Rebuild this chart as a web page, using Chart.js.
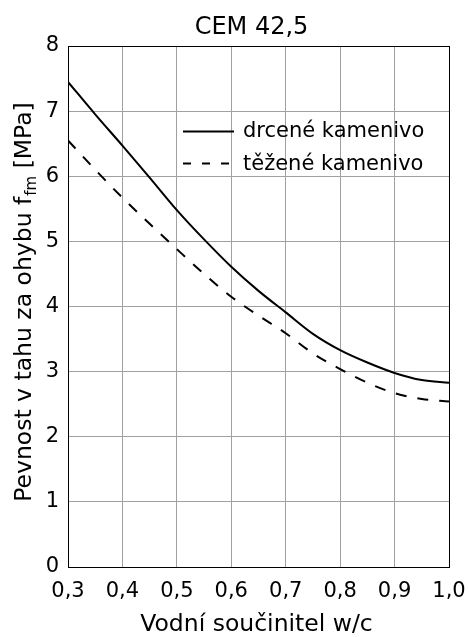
<!DOCTYPE html>
<html><head><meta charset="utf-8">
<script src="https://cdn.jsdelivr.net/npm/chart.js@4.4.1/dist/chart.umd.min.js"></script>
<style>html,body{margin:0;padding:0;background:#fff}#wrap{width:469px;height:637px}</style>
</head><body><div id="wrap"><canvas id="c" width="469" height="637"></canvas></div>
<script>
const wc = [0.30,0.35,0.40,0.45,0.50,0.55,0.60,0.65,0.70,0.75,0.80,0.85,0.90,0.95,1.00];
const drcene = [7.45,6.95,6.47,5.98,5.48,5.03,4.61,4.24,3.91,3.58,3.33,3.14,2.98,2.87,2.83];
const tezene = [6.55,6.10,5.67,5.27,4.88,4.50,4.15,3.86,3.59,3.28,3.04,2.83,2.67,2.58,2.54];
const xTicks = [0.3,0.4,0.5,0.6,0.7,0.8,0.9,1.0];
const yTicks = [0,1,2,3,4,5,6,7,8];
const seriesNames = ['drcené kamenivo','těžené kamenivo'];
const chartTitle = 'CEM 42,5';
const xTitle = 'Vodní součinitel w/c';
const yTitleMain = 'Pevnost v tahu za ohybu f';
const yTitleSub = 'fm';
const yTitleEnd = ' [MPa]';

const FONT = '"DejaVu Sans", sans-serif';
const toPts = (ys) => wc.map((x,i)=>({x:x,y:ys[i]}));

const overlay = {
  id:'overlay',
  afterDraw(chart){
    const ctx = chart.ctx, a = chart.chartArea;
    ctx.save();
    // frame
    ctx.strokeStyle = '#000'; ctx.lineWidth = 1; ctx.setLineDash([]);
    ctx.strokeRect(Math.round(a.left)+0.5, Math.round(a.top)+0.5, Math.round(a.right)-Math.round(a.left), Math.round(a.bottom)-Math.round(a.top));
    ctx.fillStyle = '#000';
    // title
    ctx.font = '24px ' + FONT; ctx.textAlign = 'center'; ctx.textBaseline = 'alphabetic';
    ctx.fillText(chartTitle, 251.5, 34);
    // x title
    ctx.font = '23.5px ' + FONT;
    ctx.fillText(xTitle, 256.5, 631);
    // y title
    ctx.save();
    ctx.translate(30.5, 302.5); ctx.rotate(-Math.PI/2);
    ctx.textAlign = 'left';
    ctx.font = '23.5px ' + FONT; const w1 = ctx.measureText(yTitleMain).width, w3 = ctx.measureText(yTitleEnd).width;
    ctx.font = '15px ' + FONT; const w2 = ctx.measureText(yTitleSub).width;
    let sx = -(w1+w2+w3)/2;
    ctx.font = '23.5px ' + FONT; ctx.fillText(yTitleMain, sx, 0);
    ctx.font = '15px ' + FONT; ctx.fillText(yTitleSub, sx+w1+1, 5);
    ctx.font = '23.5px ' + FONT; ctx.fillText(yTitleEnd, sx+w1+w2+1, 0);
    ctx.restore();
    // legend
    const rows = [{y:131.5, tb:137, dash:[]},{y:163.5, tb:170, dash:[8,11]}];
    chart.data.datasets.forEach((ds,i)=>{
      const r = rows[i];
      ctx.beginPath(); ctx.setLineDash(r.dash); ctx.lineWidth = 2; ctx.strokeStyle = '#000';
      ctx.moveTo(183, r.y); ctx.lineTo(234, r.y); ctx.stroke();
      ctx.setLineDash([]);
      ctx.font = '21px ' + FONT; ctx.textAlign = 'left'; ctx.textBaseline = 'alphabetic';
      ctx.fillText(ds.label, 243, r.tb);
    });
    ctx.restore();
  }
};

new Chart(document.getElementById('c'), {
  type:'line',
  data:{datasets:[
    {label:seriesNames[0], data:toPts(drcene), borderColor:'#000', borderWidth:2, pointRadius:0, cubicInterpolationMode:'monotone', fill:false},
    {label:seriesNames[1], data:toPts(tezene), borderColor:'#000', borderWidth:2, borderDash:[11,11], pointRadius:0, cubicInterpolationMode:'monotone', fill:false}
  ]},
  options:{
    responsive:false, devicePixelRatio:1, animation:false,
    layout:{padding:{top:46, right:20, left:0, bottom:0}},
    plugins:{legend:{display:false}, title:{display:false}, tooltip:{enabled:false}},
    scales:{
      x:{type:'linear', min:0.3, max:1.0,
        afterBuildTicks:(s)=>{ s.ticks = xTicks.map(v=>({value:v})); },
        afterFit:(s)=>{ s.height = 70; s.paddingLeft = 0; s.paddingRight = 0; },
        grid:{color:'#a0a0a0', lineWidth:1, drawTicks:false},
        border:{color:'#000', width:1},
        ticks:{padding:12, color:'#000', font:{family:FONT, size:21}, maxRotation:0, autoSkip:false,
          callback:(v)=>Number(v).toFixed(1).replace('.',',')}
      },
      y:{type:'linear', min:0, max:8,
        afterBuildTicks:(s)=>{ s.ticks = yTicks.map(v=>({value:v})); },
        afterFit:(s)=>{ s.width = 68; s.paddingTop = 0; s.paddingBottom = 0; },
        grid:{color:'#a0a0a0', lineWidth:1, drawTicks:false},
        border:{color:'#000', width:1},
        ticks:{padding:9, color:'#000', font:{family:FONT, size:21}, callback:(v)=>String(v)}
      }
    }
  },
  plugins:[overlay]
});
</script></body></html>
